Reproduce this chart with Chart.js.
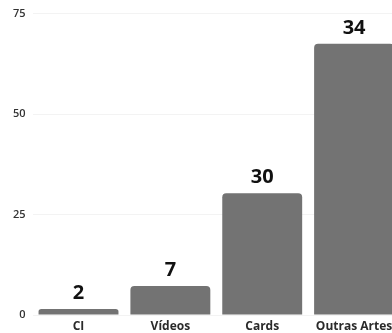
<!DOCTYPE html>
<html>
<head>
<meta charset="utf-8">
<script src="https://cdn.jsdelivr.net/npm/chart.js@4"></script>
<style>
  html, body { margin: 0; padding: 0; background: #fff; overflow: hidden; }
  #wrap { width: 392px; height: 333px; overflow: hidden; }
</style>
</head>
<body>
<div id="wrap"><canvas id="barChart" width="400" height="333"></canvas></div>
<script>
// data
const categories = ['CI', 'Vídeos', 'Cards', 'Outras Artes'];
const barValues = [1.5, 7.2, 30.3, 67.5];
const valueLabels = ['2', '7', '30', '34'];
const yTicks = [0, 25, 50, 75];

const fontFamily = '"Open Sans", "Noto Sans", sans-serif';

// draws the big numbers over each bar
const topLabels = {
    id: 'topLabels',
    afterDatasetsDraw(chart){
        const ctx = chart.ctx;
        const meta = chart.getDatasetMeta(0);
        ctx.save();
        ctx.fillStyle = '#111';
        ctx.font = 'bold 20px ' + fontFamily;
        ctx.textAlign = 'center';
        ctx.textBaseline = 'alphabetic';
        meta.data.forEach(function(bar, i){
            ctx.fillText(valueLabels[i], bar.x, bar.y - 10);
        });
        ctx.restore();
    }
};

document.addEventListener('DOMContentLoaded', function(){
    const ctx = document.getElementById('barChart');
    new Chart(ctx, {
        type: 'bar',
        data: {
            labels: categories,
            datasets: [{
                data: barValues,
                backgroundColor: '#737373',
                borderRadius: { topLeft: 4, topRight: 4 },
                borderSkipped: 'bottom',
                barPercentage: 0.87,
                categoryPercentage: 1
            }]
        },
        options: {
            responsive: false,
            animation: false,
            layout: { padding: { left: 6, top: 2, right: 0, bottom: 0 } },
            plugins: { legend: { display: false }, tooltip: { enabled: false } },
            scales: {
                x: {
                    grid: { display: false, drawTicks: false },
                    border: { display: false },
                    ticks: { color: '#2a2a2a', font: { family: fontFamily, size: 12, weight: 'bold' }, padding: 4 },
                    afterFit: function(axis){ axis.height = 18; }
                },
                y: {
                    min: 0,
                    max: 75,
                    afterBuildTicks: function(axis){ axis.ticks = yTicks.map(function(v){ return { value: v }; }); },
                    grid: { color: '#f3f3f3', drawTicks: false },
                    border: { display: false },
                    ticks: { color: '#333', font: { family: fontFamily, size: 11, weight: '600' }, padding: 7 }
                }
            }
        },
        plugins: [topLabels]
    });
});
</script>
</body>
</html>
